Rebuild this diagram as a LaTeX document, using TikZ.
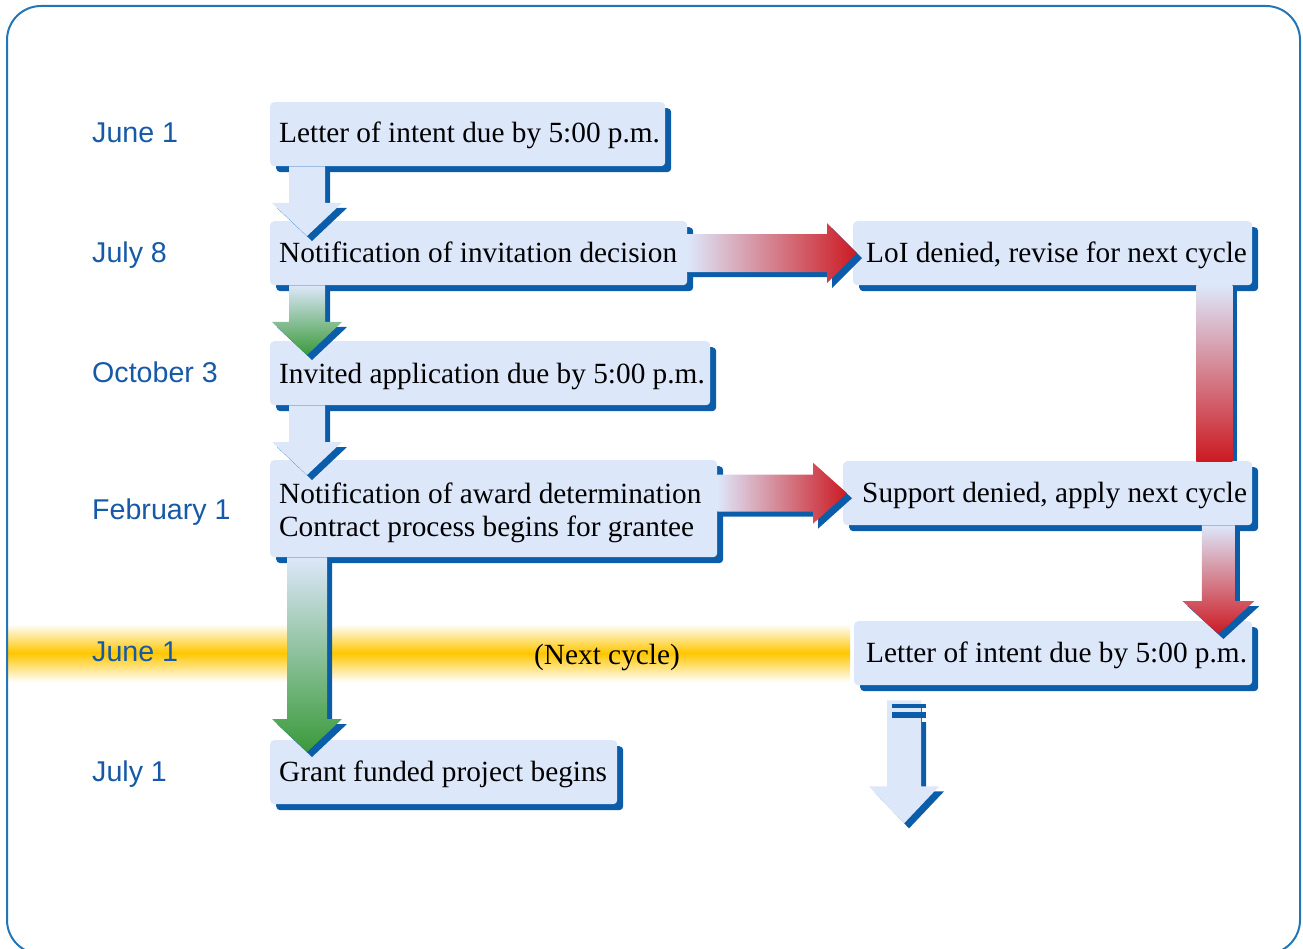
\documentclass[tikz,border=0pt]{standalone}
\usepackage{fontspec}
\setmainfont{Liberation Serif}
\newfontfamily\datefont{Liberation Sans}
\usetikzlibrary{calc,shadows}
\definecolor{boxfill}{HTML}{DDE7FA}
\definecolor{shadowblue}{HTML}{0B5DAA}
\definecolor{datablue}{HTML}{1559A7}
\definecolor{arrred}{HTML}{CC1A22}
\definecolor{arrgreen}{HTML}{3A9A3A}
\definecolor{bandyellow}{HTML}{FFC600}
\definecolor{borderblue}{HTML}{2276B7}

% vertical block arrow: start, tip, shaft half width, head half width, head length, style
\newcommand\vblock[6]{%
  \fill[shadowblue, transform canvas={shift={(5pt,-5pt)}}] let \p1=#1, \p2=#2 in
    (\x1-#3,\y1) -- (\x1+#3,\y1) -- (\x1+#3,\y2+#5) -- (\x1+#4,\y2+#5) -- (\x1,\y2)
    -- (\x1-#4,\y2+#5) -- (\x1-#3,\y2+#5) -- cycle;
  \path[#6] let \p1=#1, \p2=#2 in
    (\x1-#3,\y1) -- (\x1+#3,\y1) -- (\x1+#3,\y2+#5) -- (\x1+#4,\y2+#5) -- (\x1,\y2)
    -- (\x1-#4,\y2+#5) -- (\x1-#3,\y2+#5) -- cycle;
}
% horizontal block arrow
\newcommand\hblock[6]{%
  \fill[shadowblue, transform canvas={shift={(5pt,-5pt)}}] let \p1=#1, \p2=#2 in
    (\x1,\y1+#3) -- (\x2-#5,\y1+#3) -- (\x2-#5,\y1+#4) -- (\x2,\y1)
    -- (\x2-#5,\y1-#4) -- (\x2-#5,\y1-#3) -- (\x1,\y1-#3) -- cycle;
  \path[#6] let \p1=#1, \p2=#2 in
    (\x1,\y1+#3) -- (\x2-#5,\y1+#3) -- (\x2-#5,\y1+#4) -- (\x2,\y1)
    -- (\x2-#5,\y1-#4) -- (\x2-#5,\y1-#3) -- (\x1,\y1-#3) -- cycle;
}

\begin{document}
\begin{tikzpicture}[x=1pt,y=-1pt,
  box/.style={rectangle, rounded corners=4pt, fill=boxfill, draw=none, inner sep=0pt,
    anchor=north west, minimum height=64pt,
    general shadow={shadow xshift=6pt, shadow yshift=-6pt, fill=shadowblue}},
  txt/.style={font=\fontsize{29.3}{33}\selectfont, inner sep=0pt, anchor=base west},
  datelbl/.style={font=\datefont\fontsize{28.6}{32}\selectfont, text=datablue, inner sep=0pt, anchor=base west}]
\useasboundingbox (0,0) rectangle (1303,949);

% next-cycle band
\fill[top color=white, bottom color=white, middle color=bandyellow] (7,624) rectangle (850,682);

% boxes
\node[box, minimum width=395pt] (b1) at (270,102) {};
\node[box, minimum width=417pt] (b2) at (270,221) {};
\node[box, minimum width=440pt] (b3) at (270,341) {};
\node[box, minimum width=447pt, minimum height=97pt] (b4) at (270,460) {};
\node[box, minimum width=347pt] (b5) at (270,740) {};
\node[box, minimum width=399pt] (b6) at (853,221) {};
\node[box, minimum width=409pt] (b7) at (843,461) {};
\node[box, minimum width=398pt] (b8) at (854,621) {};

% vertical arrows on the left
\vblock{($(b1.south west)+(37,0)$)}{($(b2.north west)+(37,15)$)}{18pt}{35pt}{33pt}{fill=boxfill}
\vblock{($(b2.south west)+(37,0)$)}{($(b3.north west)+(37,14)$)}{18pt}{35pt}{33pt}{top color=boxfill, bottom color=arrgreen}
\vblock{($(b3.south west)+(37,0)$)}{($(b4.north west)+(37,15)$)}{18pt}{35pt}{33pt}{fill=boxfill}
\vblock{($(b4.south west)+(37,0)$)}{($(b5.north west)+(37,12)$)}{20pt}{35pt}{33pt}{top color=boxfill, bottom color=arrgreen}

% horizontal arrows
\hblock{(b2.east)}{($(b6.west)+(4,0)$)}{19pt}{30pt}{30pt}{left color=boxfill, right color=arrred}
\hblock{(b4.east |- b7.west)}{($(b7.west)+(4,0)$)}{18.5pt}{30.5pt}{34pt}{left color=boxfill, right color=arrred}

% right column connectors
\coordinate (gtop) at ($(b6.south east)+(-56,0)$);
\coordinate (gbot) at ($(b7.north east)+(-20,0)$);
\fill[shadowblue] ($(gtop)+(5,5)$) rectangle ($(gbot)+(5,0)$);
\path[top color=boxfill, bottom color=arrred] (gtop) rectangle (gbot);
\vblock{($(b7.south east)+(-34,0)$)}{($(b8.north east)+(-34,13)$)}{16.5pt}{36pt}{33pt}{top color=boxfill, bottom color=arrred}

% onward arrow below the last box
\coordinate (itop) at ($(b8.south west)+(50,15)$);
\coordinate (itip) at ($(b8.south west)+(50,138)$);
\vblock{(itop)}{(itip)}{17pt}{35pt}{37pt}{fill=boxfill}
\fill[white] ($(itop)+(17.5,5)$) rectangle ($(itop)+(23,22)$);
\fill[shadowblue] ($(itop)+(-12,4)$) rectangle ($(itop)+(22,8)$);
\fill[shadowblue] ($(itop)+(-12,12)$) rectangle ($(itop)+(22,18)$);

% box texts
\node[txt] (t1) at (279,143) {Letter of intent due by 5:00 p.m.};
\node[txt] (t2) at (279,263) {Notification of invitation decision};
\node[txt] (t3) at (279,383) {Invited application due by 5:00 p.m.};
\node[txt] (t4a) at (279,503) {Notification of award determination};
\node[txt] (t4b) at (279,536) {Contract process begins for grantee};
\node[txt] (t5) at (279,781) {Grant funded project begins};
\node[txt] (t6) at (866,263) {LoI denied, revise for next cycle};
\node[txt] (t7) at (862,502) {Support denied, apply next cycle};
\node[txt] (t8) at (866,662) {Letter of intent due by 5:00 p.m.};
\node[txt, anchor=base] (nc) at (607,664) {(Next cycle)};

% dates
\node[datelbl] (d1) at (92,143) {June 1};
\node[datelbl] (d2) at (92,263) {July 8};
\node[datelbl] (d3) at (92,382) {October 3};
\node[datelbl] (d4) at (92,519) {February 1};
\node[datelbl] (d5) at (92,661) {June 1};
\node[datelbl] (d6) at (92,781) {July 1};

% outer frame
\draw[borderblue, line width=2pt, rounded corners=34pt] (7,6) rectangle (1300,954);
\end{tikzpicture}
\end{document}
